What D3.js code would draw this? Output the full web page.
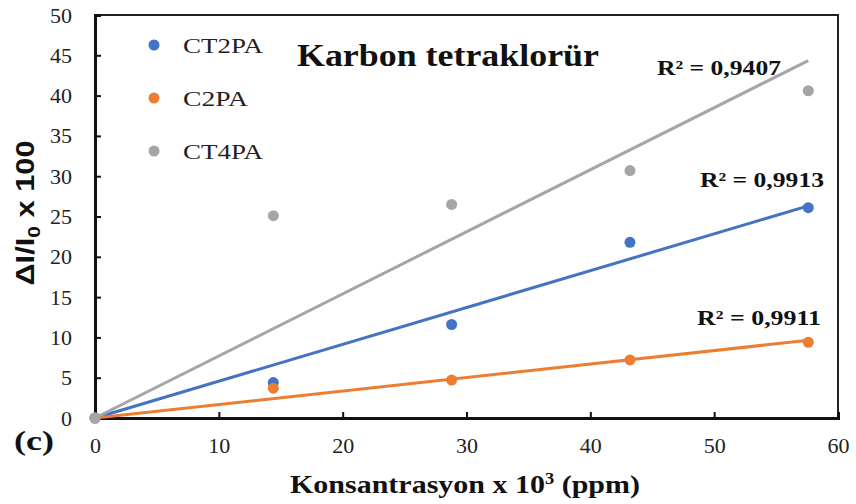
<!DOCTYPE html>
<html>
<head>
<meta charset="utf-8">
<script src="https://cdn.jsdelivr.net/npm/d3@7"></script>
<style>
  html, body { margin: 0; padding: 0; background: #fff; }
  svg { display: block; }
</style>
</head>
<body>
<svg id="chart" width="856" height="504"></svg>
<script>
// Concentration (x 10^3 ppm) shared by all series
const concentrations = [0, 14.4, 28.8, 43.2, 57.6];

// Response ΔI/I0 x 100 for each sensor film
const ct2paValues = [0, 4.4, 11.6, 21.8, 26.1];
const c2paValues  = [0, 3.7, 4.7, 7.2, 9.4];
const ct4paValues = [0, 25.1, 26.5, 30.7, 40.6];

const seriesNames  = ["CT2PA", "C2PA", "CT4PA"];
const seriesColors = ["#4472C4", "#ED7D31", "#A5A5A5"];
const r2Labels     = ["R² = 0,9913", "R² = 0,9911", "R² = 0,9407"];

const xTicks = [0, 10, 20, 30, 40, 50, 60];
const yTicks = [0, 5, 10, 15, 20, 25, 30, 35, 40, 45, 50];

const series = [ct2paValues, c2paValues, ct4paValues].map((vals, i) => ({
  name: seriesNames[i],
  color: seriesColors[i],
  r2: r2Labels[i],
  points: concentrations.map((c, j) => ({ x: c, y: vals[j] }))
}));

// Linear trend forced through the origin: slope = Σxy / Σx²
series.forEach(s => {
  const sxy = d3.sum(s.points, p => p.x * p.y);
  const sxx = d3.sum(s.points, p => p.x * p.x);
  s.slope = sxy / sxx;
});

const svg = d3.select("#chart");
const margin = { left: 95, right: 18, top: 15, bottom: 86 };
const W = 856, H = 504;

const x = d3.scaleLinear().domain([0, 60]).range([margin.left, W - margin.right]);
const y = d3.scaleLinear().domain([0, 50]).range([H - margin.bottom, margin.top]);

const serif = "'Liberation Serif', 'Times New Roman', serif";

// Slightly widened serif lettering, as in the original figure
function label(sel, opts) {
  const t = sel.append("text")
    .attr("x", opts.x).attr("y", opts.y)
    .attr("text-anchor", opts.anchor || "start")
    .style("font-family", opts.family || serif)
    .style("font-weight", opts.bold ? "bold" : "normal")
    .style("font-size", opts.size + "px")
    .attr("fill", opts.fill || "#111");
  if (opts.length) t.attr("textLength", opts.length).attr("lengthAdjust", "spacingAndGlyphs");
  return t;
}

// Plot frame
svg.append("rect")
  .attr("x", x(0)).attr("y", y(50))
  .attr("width", x(60) - x(0)).attr("height", y(0) - y(50))
  .attr("fill", "none").attr("stroke", "#222").attr("stroke-width", 2);

// Axes with ticks pointing into the plot
const xAxis = svg.append("g")
  .attr("transform", `translate(0,${y(0)})`)
  .call(d3.axisBottom(x).tickValues(xTicks).tickSize(-6).tickPadding(19));
const yAxis = svg.append("g")
  .attr("transform", `translate(${x(0)},0)`)
  .call(d3.axisLeft(y).tickValues(yTicks).tickSize(-6).tickPadding(23));

[xAxis, yAxis].forEach(g => {
  g.select(".domain").attr("stroke", "#111").attr("stroke-width", 3);
  g.selectAll(".tick line").attr("stroke", "#111").attr("stroke-width", 2);
  g.selectAll(".tick text")
    .attr("fill", "#222")
    .style("font-family", serif)
    .style("font-size", "22px");
});

// Trend lines
series.forEach(s => {
  const xEnd = d3.max(s.points, p => p.x);
  svg.append("line")
    .attr("x1", x(0)).attr("y1", y(0))
    .attr("x2", x(xEnd)).attr("y2", y(s.slope * xEnd))
    .attr("stroke", s.color).attr("stroke-width", 3);
});

// Data markers
series.forEach(s => {
  svg.append("g").selectAll("circle")
    .data(s.points)
    .join("circle")
    .attr("cx", d => x(d.x)).attr("cy", d => y(d.y))
    .attr("r", 5.5)
    .attr("fill", s.color);
});

// R² annotations
const r2Pos = [
  { x: 700, y: 187 },
  { x: 697, y: 325 },
  { x: 657, y: 75 }
];
series.forEach((s, i) => {
  label(svg, { x: r2Pos[i].x, y: r2Pos[i].y, size: 22, bold: true, length: 124 }).text(s.r2);
});

// Legend
const legendWidths = [80, 65, 80];
series.forEach((s, i) => {
  const ly = 45 + i * 53;
  svg.append("circle").attr("cx", 154).attr("cy", ly).attr("r", 5.5).attr("fill", s.color);
  label(svg, { x: 183, y: ly + 8, size: 22, fill: "#222", length: legendWidths[i] }).text(s.name);
});

// Chart title
label(svg, { x: 297, y: 66, size: 32, bold: true, length: 302 }).text("Karbon tetraklorür");

// Panel tag
label(svg, { x: 14, y: 450, size: 27, bold: true, length: 40 }).text("(c)");

// X axis title
const xt = label(svg, { x: 290, y: 493, size: 26, bold: true, length: 350 });
xt.append("tspan").text("Konsantrasyon x 10");
xt.append("tspan").attr("dy", -9).style("font-size", "16px").text("3");
xt.append("tspan").attr("dy", 9).text(" (ppm)");

// Y axis title
const yt = svg.append("text")
  .attr("transform", "translate(34,213) rotate(-90)")
  .attr("text-anchor", "middle")
  .attr("textLength", 145).attr("lengthAdjust", "spacingAndGlyphs")
  .style("font-family", "'Liberation Sans', Arial, sans-serif")
  .style("font-weight", "bold").style("font-size", "25px")
  .attr("fill", "#111");
yt.append("tspan").text("ΔI/I");
yt.append("tspan").attr("dy", 6).style("font-size", "17px").text("0");
yt.append("tspan").attr("dy", -6).text(" x 100");
</script>
</body>
</html>
